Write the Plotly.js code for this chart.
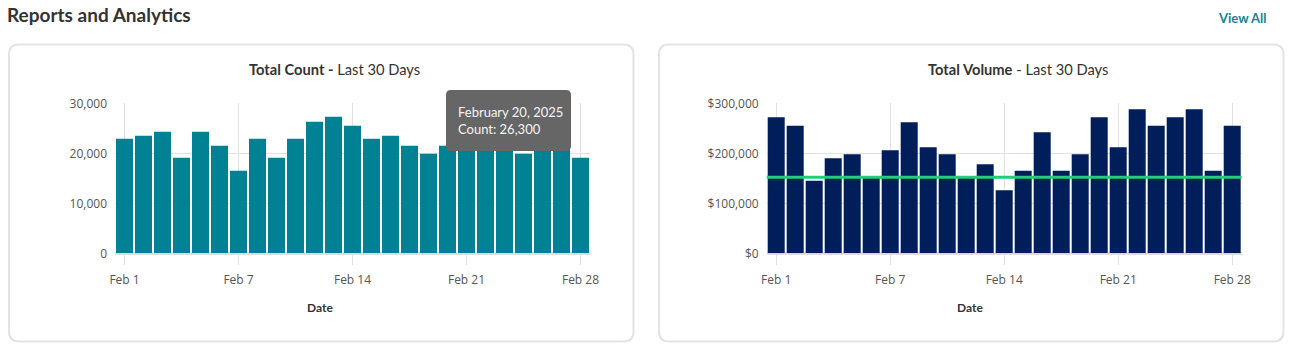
<!DOCTYPE html>
<html>
<head>
<meta charset="utf-8">
<script src="https://cdn.plot.ly/plotly-3.0.1.min.js"></script>
<style>
  html, body { margin: 0; padding: 0; background: #ffffff; }
  #chart { width: 1292px; height: 353px; }
</style>
</head>
<body>
<div id="chart"></div>
<script>
// ---- data ----
const dates = [
  '2025-02-01','2025-02-02','2025-02-03','2025-02-04','2025-02-05','2025-02-06','2025-02-07',
  '2025-02-08','2025-02-10','2025-02-11','2025-02-12','2025-02-13','2025-02-14',
  '2025-02-15','2025-02-17','2025-02-18','2025-02-19','2025-02-20','2025-02-21',
  '2025-02-22','2025-02-24','2025-02-25','2025-02-26','2025-02-27','2025-02-28'
];
const countValues = [
  22900, 23500, 24300, 19100, 24300, 21500, 16500,
  22900, 19100, 22900, 26300, 27300, 25500,
  22900, 23500, 21500, 19900, 21500, 23800,
  24600, 26300, 19900, 22600, 21700, 19100
];
const volumeValues = [
  272000, 255000, 145000, 190000, 198000, 151000, 206000,
  262000, 212000, 198000, 151000, 178000, 126000,
  165000, 242000, 165000, 198000, 272000, 212000,
  288000, 255000, 272000, 288000, 165000, 255000
];
const volumeTarget = 152000;
const tickDates = ['2025-02-01','2025-02-07','2025-02-14','2025-02-21','2025-02-28'];
const tickLabels = ['Feb 1','Feb 7','Feb 14','Feb 21','Feb 28'];
const countTicks = [0, 10000, 20000, 30000];
const volumeTicks = [0, 100000, 200000, 300000];
const tooltipText = 'February 20, 2025<br>Count: 26,300';

// ---- layout helpers (pixel -> paper) ----
const W = 1292, H = 353;
const px = x => x / W;
const py = y => 1 - y / H;
function roundRect(x0, y0, x1, y1, r) {
  const P = (x, y) => px(x).toFixed(5) + ',' + py(y).toFixed(5);
  return 'M' + P(x0 + r, y0) + ' L' + P(x1 - r, y0) + ' Q' + P(x1, y0) + ' ' + P(x1, y0 + r) +
         ' L' + P(x1, y1 - r) + ' Q' + P(x1, y1) + ' ' + P(x1 - r, y1) +
         ' L' + P(x0 + r, y1) + ' Q' + P(x0, y1) + ' ' + P(x0, y1 - r) +
         ' L' + P(x0, y0 + r) + ' Q' + P(x0, y0) + ' ' + P(x0 + r, y0) + ' Z';
}

const gridColor = '#e2e2e2';
const tickFont = { family: 'Open Sans, sans-serif', size: 12, color: '#555555' };

const traces = [
  {
    type: 'bar', x: dates, y: countValues, xaxis: 'x', yaxis: 'y',
    marker: { color: '#008294' }, hoverinfo: 'skip', name: 'Count'
  },
  {
    type: 'bar', x: dates, y: volumeValues, xaxis: 'x2', yaxis: 'y2',
    marker: { color: '#001f5a' }, hoverinfo: 'skip', name: 'Volume'
  }
];

function xAxis(domain) {
  return {
    domain: domain, type: 'category', range: [-0.5, dates.length - 0.5],
    tickmode: 'array', tickvals: tickDates, ticktext: tickLabels,
    showgrid: true, gridcolor: gridColor, gridwidth: 1,
    ticks: 'outside', ticklen: 11, tickcolor: gridColor, tickwidth: 1,
    ticklabelstandoff: 4,
    tickfont: tickFont, showline: false, zeroline: false, fixedrange: true
  };
}
function yAxis(domain, range, ticks, fmt, anchor) {
  return {
    domain: domain, range: range, tickmode: 'array', tickvals: ticks,
    tickformat: fmt, anchor: anchor,
    showgrid: true, gridcolor: gridColor, gridwidth: 1,
    zeroline: true, zerolinecolor: '#e0e0e0', zerolinewidth: 3,
    ticks: '', tickfont: tickFont, ticklabelstandoff: 7, showline: false, fixedrange: true
  };
}

const yDom = [py(253.3), py(103.3)];

const layout = {
  width: W, height: H,
  margin: { l: 0, r: 0, t: 0, b: 0 },
  paper_bgcolor: '#ffffff', plot_bgcolor: 'rgba(0,0,0,0)',
  showlegend: false, hovermode: false,
  bargap: 0.105,
  font: { family: 'Open Sans, sans-serif', color: '#333333' },
  xaxis: Object.assign(xAxis([px(115), px(590)]), { anchor: 'y' }),
  yaxis: yAxis(yDom, [0, 30000], countTicks, ',d', 'x'),
  xaxis2: Object.assign(xAxis([px(766.7), px(1241.7)]), { anchor: 'y2' }),
  yaxis2: yAxis(yDom, [0, 300000], volumeTicks, '$,d', 'x2'),
  shapes: [
    { type: 'path', xref: 'paper', yref: 'paper', layer: 'below',
      path: roundRect(9, 44.5, 633.5, 341.5, 10),
      line: { color: '#e3e3e3', width: 2 }, fillcolor: '#ffffff' },
    { type: 'path', xref: 'paper', yref: 'paper', layer: 'below',
      path: roundRect(659, 44.5, 1283.5, 341.5, 10),
      line: { color: '#e3e3e3', width: 2 }, fillcolor: '#ffffff' },
    { type: 'line', xref: 'x2 domain', yref: 'y2', x0: 0, x1: 1,
      y0: volumeTarget, y1: volumeTarget, layer: 'above',
      line: { color: '#22cc78', width: 3 } },
    { type: 'path', xref: 'paper', yref: 'paper', layer: 'above',
      path: roundRect(446, 90, 571, 151, 5),
      line: { width: 0 }, fillcolor: '#666666' }
  ],
  annotations: [
    { text: '<b>Reports and Analytics</b>', xref: 'paper', yref: 'paper',
      x: px(5), y: py(14), xanchor: 'left', yanchor: 'middle', showarrow: false,
      font: { family: 'Lato, sans-serif', size: 19, color: '#333333' } },
    { text: '<b>View All</b>', xref: 'paper', yref: 'paper',
      x: px(1269), y: py(18), xanchor: 'right', yanchor: 'middle', showarrow: false,
      font: { family: 'Lato, sans-serif', size: 13, color: '#10859a' } },
    { text: '<b>Total Count -</b> Last 30 Days', xref: 'paper', yref: 'paper',
      x: px(334), y: py(69), xanchor: 'center', yanchor: 'middle', showarrow: false,
      font: { family: 'Lato, sans-serif', size: 14.7, color: '#333333' } },
    { text: '<b>Total Volume</b> - Last 30 Days', xref: 'paper', yref: 'paper',
      x: px(1018), y: py(69), xanchor: 'center', yanchor: 'middle', showarrow: false,
      font: { family: 'Lato, sans-serif', size: 14.7, color: '#333333' } },
    { text: '<b>Date</b>', xref: 'paper', yref: 'paper',
      x: px(320), y: py(307), xanchor: 'center', yanchor: 'middle', showarrow: false,
      font: { family: 'Lato, sans-serif', size: 12, color: '#333333' } },
    { text: '<b>Date</b>', xref: 'paper', yref: 'paper',
      x: px(970), y: py(307), xanchor: 'center', yanchor: 'middle', showarrow: false,
      font: { family: 'Lato, sans-serif', size: 12, color: '#333333' } },
    { text: tooltipText, xref: 'paper', yref: 'paper', align: 'left',
      x: px(456), y: py(120.5), xanchor: 'left', yanchor: 'middle', showarrow: false,
      font: { family: 'Lato, sans-serif', size: 13, color: '#f4f4f4' } }
  ]
};

Plotly.newPlot('chart', traces, layout, { displayModeBar: false, staticPlot: true });
</script>
</body>
</html>
